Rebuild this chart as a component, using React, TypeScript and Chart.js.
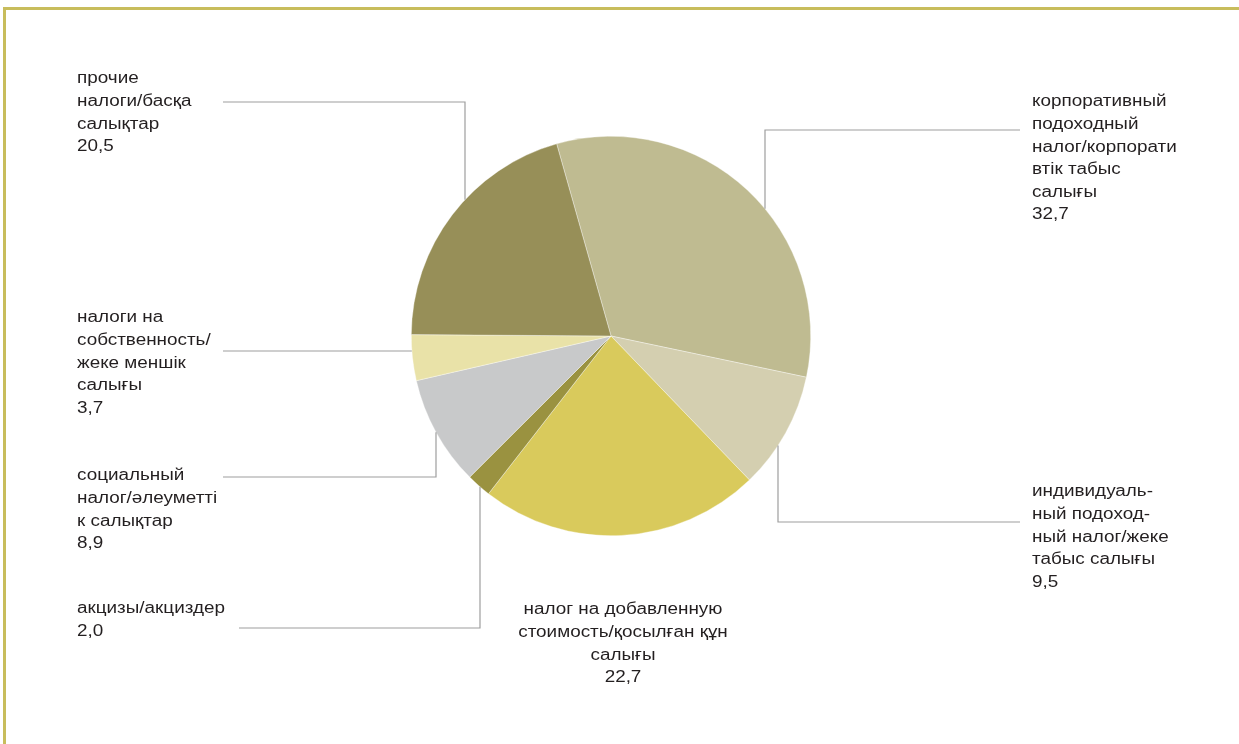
import React, { useEffect, useRef } from "react";
import { Chart, registerables } from "chart.js";

Chart.register(...registerables);

const categories: string[][] = [
  ["корпоративный", "подоходный", "налог/корпорати", "втік табыс", "салығы"],
  ["индивидуаль-", "ный подоход-", "ный налог/жеке", "табыс салығы"],
  ["налог на добавленную", "стоимость/қосылған құн", "салығы"],
  ["акцизы/акциздер"],
  ["социальный", "налог/әлеуметті", "к салықтар"],
  ["налоги на", "собственность/", "жеке меншік", "салығы"],
  ["прочие", "налоги/басқа", "салықтар"],
];
const values = [32.7, 9.5, 22.7, 2.0, 8.9, 3.7, 20.5];
const valueLabels = ["32,7", "9,5", "22,7", "2,0", "8,9", "3,7", "20,5"];
const colors = ["#BFBB91", "#D4CFB0", "#D9CA5C", "#9A9240", "#C8C9CA", "#E9E2A8", "#978F58"];

type Leader = { hy: number; hx: number; vx?: number; dir?: "down" | "up" } | null;
type LabelPos = { x: number; y: number; align: "left" | "center"; leader: Leader };

const labelLayout: LabelPos[] = [
  { x: 1032, y: 102, align: "left", leader: { hy: 130, hx: 1020, vx: 765, dir: "down" } },
  { x: 1032, y: 492, align: "left", leader: { hy: 522, hx: 1020, vx: 778, dir: "up" } },
  { x: 623, y: 610, align: "center", leader: null },
  { x: 77, y: 609, align: "left", leader: { hy: 628, hx: 239, vx: 480, dir: "up" } },
  { x: 77, y: 476, align: "left", leader: { hy: 477, hx: 223, vx: 436, dir: "up" } },
  { x: 77, y: 318, align: "left", leader: { hy: 351, hx: 223 } },
  { x: 77, y: 79, align: "left", leader: { hy: 102, hx: 223, vx: 465, dir: "down" } },
];

const labelPlugin = {
  id: "labelPlugin",
  beforeDraw(chart: any) {
    const ctx = chart.ctx;
    ctx.save();
    ctx.fillStyle = "#C8BD5C";
    ctx.fillRect(3, 7, chart.width - 3, 3);
    ctx.fillRect(3, 7, 3, chart.height - 7);
    ctx.restore();
  },
  afterDatasetsDraw(chart: any) {
    const ctx = chart.ctx;
    const arc = chart.getDatasetMeta(0).data[0] as any;
    const cx = arc.x;
    const cy = arc.y;
    const r = arc.outerRadius;
    ctx.save();
    ctx.strokeStyle = "#9E9E9E";
    ctx.lineWidth = 1.2;
    labelLayout.forEach((pos) => {
      const l = pos.leader;
      if (!l) return;
      ctx.beginPath();
      if (l.vx !== undefined) {
        const dy = Math.sqrt(Math.max(r * r - (l.vx - cx) * (l.vx - cx), 0));
        const endY = l.dir === "down" ? cy - dy : cy + dy;
        ctx.moveTo(l.hx, l.hy);
        ctx.lineTo(l.vx, l.hy);
        ctx.lineTo(l.vx, endY);
      } else {
        const dx = Math.sqrt(Math.max(r * r - (l.hy - cy) * (l.hy - cy), 0));
        ctx.moveTo(l.hx, l.hy);
        ctx.lineTo(cx - dx, l.hy);
      }
      ctx.stroke();
    });
    ctx.fillStyle = "#231F20";
    ctx.font = '16px "Liberation Sans", Arial, sans-serif';
    ctx.textBaseline = "middle";
    const sx = 1.18;
    const lh = 22.6;
    categories.forEach((lines, i) => {
      const pos = labelLayout[i];
      ctx.textAlign = pos.align;
      const all = [...lines, valueLabels[i]];
      all.forEach((t, k) => {
        ctx.save();
        ctx.translate(pos.x, pos.y + k * lh);
        ctx.scale(sx, 1);
        ctx.fillText(t, 0, 0);
        ctx.restore();
      });
    });
    ctx.restore();
  },
};

export default function App() {
  const ref = useRef<HTMLCanvasElement | null>(null);
  useEffect(() => {
    if (!ref.current) return;
    const chart = new Chart(ref.current, {
      type: "pie",
      data: {
        labels: categories.map((c) => c.join(" ")),
        datasets: [
          {
            data: values,
            backgroundColor: colors,
            borderColor: "rgba(255,255,255,0.6)",
            borderWidth: 0.6,
          },
        ],
      },
      options: {
        responsive: false,
        animation: false,
        rotation: -15.8,
        layout: { padding: { left: 411, top: 136, right: 428, bottom: 208 } },
        plugins: {
          legend: { display: false },
          tooltip: { enabled: false },
        },
      },
      plugins: [labelPlugin],
    });
    return () => chart.destroy();
  }, []);
  return (
    <div style={{ position: "absolute", left: 0, top: 0, width: 1239, height: 744, background: "#fff" }}>
      <canvas ref={ref} width={1239} height={744} style={{ display: "block" }} />
    </div>
  );
}
